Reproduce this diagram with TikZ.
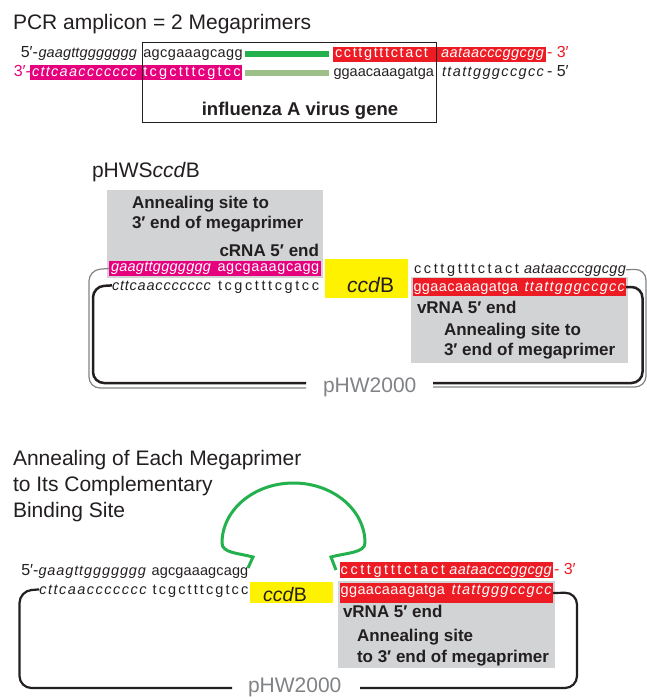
\documentclass[tikz,border=0pt]{standalone}
\usepackage{fontspec}
\setmainfont{Liberation Sans}
\definecolor{ink}{HTML}{231F20}
\definecolor{mag}{HTML}{E6007E}
\definecolor{redb}{HTML}{ED1C24}
\definecolor{yel}{HTML}{FFF200}
\definecolor{gbox}{HTML}{D1D3D4}
\definecolor{grn}{HTML}{22B14C}
\definecolor{lgrn}{HTML}{9DC08B}
\definecolor{plgray}{HTML}{808285}
\newcommand\fsz[1]{\fontsize{#1}{#1}\selectfont}
\newcommand\spr[2]{\makebox[#1pt][s]{\sprA#2\sprEnd}}
\def\sprA#1{#1\sprB}
\def\sprB#1{\ifx\sprEnd#1\else\hfil#1\expandafter\sprB\fi}
\def\sprEnd{}
\tikzset{
 lbl/.style={anchor=base west, inner sep=0pt, outer sep=0pt},
 sq/.style={lbl, font=\fsz{14.5}, text=ink},
 sqw/.style={sq, text=white},
 tag/.style={anchor=base east, inner sep=0pt, outer sep=0pt, font=\fsz{16}, text=ink},
 ttl/.style={lbl, font=\fsz{21}, text=ink},
 bld/.style={lbl, font=\bfseries\fsz{17}, text=ink},
 blk/.style={anchor=north west, inner sep=0pt, outer sep=0pt, draw=none},
 pl/.style={draw=plgray, line width=1.2pt, rounded corners=11pt},
 bk/.style={draw=ink, line width=2.5pt, rounded corners=11pt},
 pw/.style={lbl, font=\fsz{21}, text=plgray},
}
\begin{document}
\begin{tikzpicture}[x=1pt,y=-1pt]
\useasboundingbox (0,0) rectangle (647,697);
% ---------- Section 1 ----------
\node[ttl] (t1) at (13,29) {PCR amplicon = 2 Megaprimers};
\node[blk, fill=redb, minimum width=213pt, minimum height=15pt] (r1) at (333,47) {};
\node[blk, fill=mag, minimum width=212pt, minimum height=15pt] (m1) at (30,65) {};
\draw[grn, line width=6pt] (245,53.5) coordinate (ga1) -- (329,53.5) coordinate (gb1);
\draw[lgrn, line width=6pt] (245,72.5) coordinate (ga2) -- (329,72.5) coordinate (gb2);
\node[tag] (s1a) at (38,57) {5′-};
\node[sq] (s1b) at (38.5,57) {\itshape\spr{98.5}{gaagttggggggg}};
\node[sq] (s1c) at (143.3,57) {\spr{99.4}{agcgaaagcagg}};
\node[sqw] (s1d) at (335,57) {\spr{93}{ccttgtttctact}};
\node[sqw] (s1e) at (441,57) {\itshape\spr{103}{aataacccggcgg}};
\node[sq, font=\fsz{16}, text=redb] (s1f) at (547,57) {- 3′};
\node[tag, text=mag] (s2a) at (31,76) {3′-};
\node[sqw] (s2b) at (32,76) {\itshape\spr{105}{cttcaaccccccc}};
\node[sqw] (s2c) at (143.3,76) {\spr{97.4}{tcgctttcgtcc}};
\node[sq] (s2d) at (333.5,76) {\spr{100.5}{ggaacaaagatga}};
\node[sq] (s2e) at (442,76) {\itshape\spr{102}{ttattgggccgcc}};
\node[sq, font=\fsz{16}] (s2f) at (547,76) {- 5′};
\draw[ink, line width=1pt] (142,42) rectangle (436,122);
\node[lbl, anchor=base, font=\bfseries\fsz{18.5}, text=ink] (gene) at (300,115) {influenza A virus gene};
% ---------- Section 2 ----------
\node[ttl] (t2) at (92,177) {pHWS\textit{ccd}B};
\node[blk, fill=gbox, minimum width=216pt, minimum height=88pt] (g1) at (107,190) {};
\node[blk, fill=gbox, minimum width=217pt, minimum height=86pt] (g2) at (411,277) {};
\node[bld] (a1) at (132,208) {Annealing site to};
\node[bld] (a2) at (132,228) {3′ end of megaprimer};
\node[bld, anchor=base east] (cr) at (319,256) {cRNA 5′ end};
\node[blk, fill=mag, minimum width=212pt, minimum height=15pt] (m2) at (109,261) {};
\node[sqw] (s3a) at (111,271) {\itshape\spr{100}{gaagttggggggg}};
\node[sqw] (s3b) at (217.5,271) {\spr{101.8}{agcgaaagcagg}};
\node[sq] (s4a) at (112,290) {\itshape\spr{99}{cttcaaccccccc}};
\node[sq] (s4b) at (218,290) {\spr{101}{tcgctttcgtcc}};
\node[blk, fill=yel, minimum width=83pt, minimum height=39pt] (y2) at (325,259) {};
\node[lbl, font=\fsz{21}, text=ink] (cc2) at (347,292) {\textit{ccd}B};
\node[sq] (s5a) at (414,273) {\spr{105}{ccttgtttctact}};
\node[sq] (s5b) at (524,273) {\itshape\spr{102}{aataacccggcgg}};
\node[blk, fill=redb, minimum width=213pt, minimum height=18pt] (r2) at (413,278) {};
\node[sqw] (s6a) at (413.5,291) {\spr{104.8}{ggaacaaagatga}};
\node[sqw] (s6b) at (524.5,291) {\itshape\spr{100.5}{ttattgggccgcc}};
\node[bld] (v1) at (417,313) {vRNA 5′ end};
\node[bld] (a3) at (444,335) {Annealing site to};
\node[bld] (a4) at (444,355) {3′ end of megaprimer};
\node[pw] (p2) at (323,392) {pHW2000};
\coordinate (q1) at (306,388);
\coordinate (q2) at (306,383);
\coordinate (q3) at (433,387);
\coordinate (q4) at (433,383);
\draw[pl] (m2.west) -- (89,270) -- (89,388) -- (q1);
\draw[bk] (s4a.west) -- (93,286.5) -- (93,383) -- (q2);
\draw[pl] (s5b.east) -- (646,269) -- (646,387) -- (q3);
\draw[bk] (r2.east) -- (642.5,287) -- (642.5,383) -- (q4);
% ---------- Section 3 ----------
\node[ttl] (t3a) at (13,465) {Annealing of Each Megaprimer};
\node[ttl] (t3b) at (13,491) {to Its Complementary};
\node[ttl] (t3c) at (13,517) {Binding Site};
\node[blk, fill=gbox, minimum width=217pt, minimum height=87pt] (g3) at (338,581) {};
\node[blk, fill=redb, minimum width=213pt, minimum height=16pt] (r3) at (340,562) {};
\node[blk, fill=redb, minimum width=213pt, minimum height=20pt] (r4) at (340,583) {};
\node[blk, fill=yel, minimum width=83pt, minimum height=21pt] (y3) at (250,582) {};
\node[lbl, font=\fsz{19.5}, text=ink] (cc3) at (263,601) {\textit{ccd}B};
\node[tag] (s7a) at (38.5,575) {5′-};
\node[sq] (s7b) at (38.5,575) {\itshape\spr{107.5}{gaagttggggggg}};
\node[sq] (s7c) at (151.7,575) {\spr{96.6}{agcgaaagcagg}};
\node[sq] (s8a) at (39.3,594) {\itshape\spr{107.4}{cttcaaccccccc}};
\node[sq] (s8b) at (152.7,594) {\spr{95.6}{tcgctttcgtcc}};
\node[sqw] (s9a) at (340.7,574.5) {\spr{104.3}{ccttgtttctact}};
\node[sqw] (s9b) at (449.3,574.5) {\itshape\spr{102.4}{aataacccggcgg}};
\node[sq, font=\fsz{16}, text=redb] (s9c) at (554,574.5) {- 3′};
\node[sqw] (s10a) at (340.7,594) {\spr{104.3}{ggaacaaagatga}};
\node[sqw] (s10b) at (451.7,594) {\itshape\spr{100}{ttattgggccgcc}};
\node[bld] (v2) at (343,617) {vRNA 5′ end};
\node[bld] (a5) at (357,641) {Annealing site};
\node[bld] (a6) at (357,662) {to 3′ end of megaprimer};
\node[pw] (p3) at (248,692.5) {pHW2000};
\coordinate (q5) at (232,688);
\coordinate (q6) at (360,688);
\draw[bk, line width=2.2pt, rounded corners=12pt] (s8a.west) -- (19.5,591) -- (19.5,688) -- (q5);
\draw[bk, line width=2.2pt, rounded corners=12pt] (r4.east) -- (577,592.5) -- (577,688) -- (q6);
\coordinate (gl) at (248,568);
\coordinate (gr) at (336,570);
\draw[grn, line width=3pt] (gl) -- (253,557) .. controls (238,553) and (222,553) .. (222,543)
  arc[start angle=180, end angle=360, x radius=71.5, y radius=60]
  .. controls (365,553) and (345,553) .. (331,557) -- (gr);
\end{tikzpicture}
\end{document}
